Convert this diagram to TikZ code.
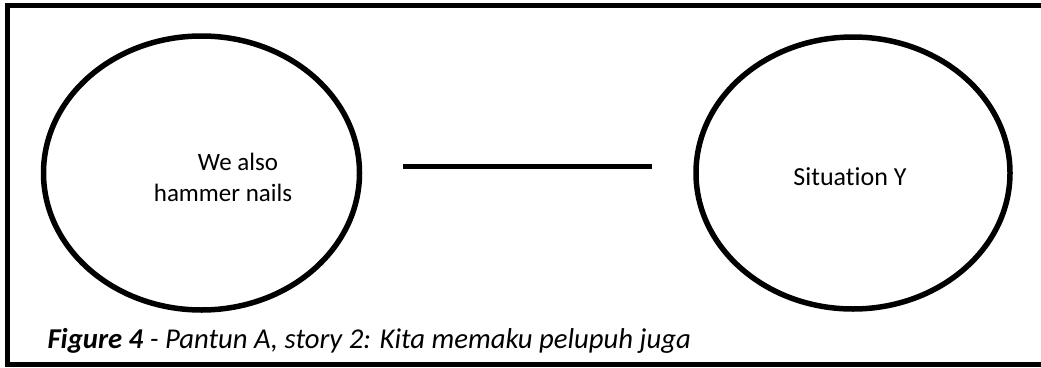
\documentclass[tikz,border=0pt]{standalone}
\usepackage{fontspec}
\setmainfont{Carlito}[Ligatures=NoCommon]
\begin{document}
\begin{tikzpicture}[x=1pt,y=-1pt,
  thick line/.style={line width=5pt},
  bubble line/.style={line width=5.5pt},
  label text/.style={font=\fontsize{25}{33}\selectfont, anchor=base}]
\useasboundingbox (0,0) rectangle (1041,367);
% outer frame
\draw[thick line] (7.5,5.5) rectangle (1046,364.5);
% two ellipses
\draw[bubble line] (201.5,173) ellipse [x radius=158, y radius=137];
\draw[bubble line] (853,173) ellipse [x radius=157, y radius=136];
% anchors for the connector
\coordinate (c1) at (403,166.5);
\coordinate (c2) at (652,166.5);
\draw[thick line] (c1) -- (c2);
\node[label text] (left1) at (238,170) {We also};
\node[label text] (left2) at (223,201) {hammer nails};
\node[label text, font=\fontsize{26}{33}\selectfont] (right) at (850,185) {Situation Y};
\node[anchor=base west, font=\fontsize{28.7}{34}\selectfont\itshape] (cap) at (44,348)
  {\textbf{Figure 4} - Pantun A, story 2: Kita memaku pelupuh juga};
\end{tikzpicture}
\end{document}
